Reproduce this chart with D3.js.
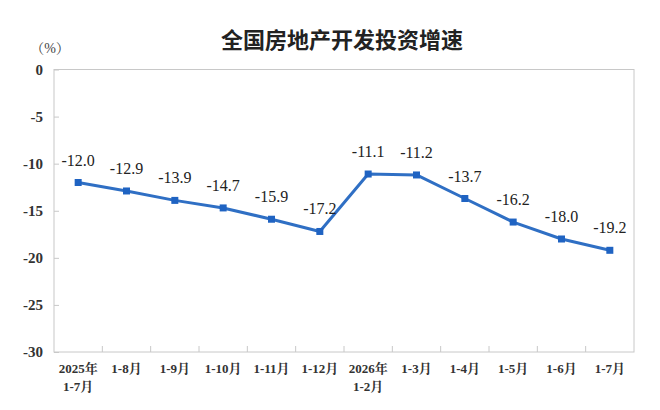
<!DOCTYPE html>
<html><head><meta charset="utf-8">
<script src="https://cdn.jsdelivr.net/npm/d3@7/dist/d3.min.js"></script>
<style>body{margin:0;background:#fff;}svg{display:block;}</style>
</head><body><svg id="c" width="660" height="410"></svg>
<script>
const categories = ["2025年|1-7月","1-8月","1-9月","1-10月","1-11月","1-12月","2026年|1-2月","1-3月","1-4月","1-5月","1-6月","1-7月"];
const values = [-12.0,-12.9,-13.9,-14.7,-15.9,-17.2,-11.1,-11.2,-13.7,-16.2,-18.0,-19.2];
const yTicks = [0,-5,-10,-15,-20,-25,-30];
const title = "全国房地产开发投资增速";
const unit = "（%）";

const SERIF = '"Liberation Serif", "Times New Roman", "Noto Serif CJK SC", "Noto Sans CJK SC", serif';
const svg = d3.select("#c");
const m = {l:54, r:634, t:69.5, b:352};
const x = d3.scaleBand().domain(categories).range([m.l, m.r]);
const y = d3.scaleLinear().domain([-30,0]).range([m.b, m.t]);
const axisCol = "#c8c8c8";

svg.append("text").attr("x",342).attr("y",48).attr("text-anchor","middle")
  .style("font-family",'"Noto Sans CJK SC", sans-serif').style("font-weight","bold")
  .style("font-size","22px").attr("fill","#222").text(title);

svg.append("text").attr("x",50).attr("y",53).attr("text-anchor","middle")
  .style("font-family",SERIF).style("font-size","14px").attr("fill","#444").text(unit);

// frame
svg.append("rect").attr("x",m.l).attr("y",m.t).attr("width",m.r-m.l).attr("height",m.b-m.t)
  .attr("fill","none").attr("stroke",axisCol).attr("stroke-width",1);

// y axis
const yAxis = svg.append("g").attr("transform",`translate(${m.l},0)`)
  .call(d3.axisRight(y).tickValues(yTicks).tickSize(5).tickFormat(d=>String(d)));
yAxis.select(".domain").remove();
yAxis.selectAll(".tick line").attr("stroke",axisCol);
yAxis.selectAll(".tick text").attr("x",-11).attr("text-anchor","end")
  .style("font-family",SERIF).style("font-weight","bold").style("font-size","15px").attr("fill","#333");

// x axis ticks at band boundaries (inside, pointing up)
const bounds = categories.slice(1).map(c=>x(c));
svg.append("g").selectAll("line").data(bounds).join("line")
  .attr("x1",d=>d).attr("x2",d=>d).attr("y1",m.b).attr("y2",m.b-6)
  .attr("stroke",axisCol);

const xl = svg.append("g").selectAll("text").data(categories).join("text")
  .attr("x",d=>x(d)+x.bandwidth()/2).attr("y",373).attr("text-anchor","middle")
  .style("font-family",SERIF).style("font-weight","bold").style("font-size","13px").attr("fill","#333");
xl.each(function(d){
  const parts = d.split("|");
  const t = d3.select(this);
  parts.forEach((p,i)=>{
    t.append("tspan").attr("x",x(d)+x.bandwidth()/2).attr("dy",i===0?0:18).text(p);
  });
});

// line
const cx = d=>x(d)+x.bandwidth()/2;
const line = d3.line().x((d,i)=>cx(categories[i])).y(d=>y(d));
svg.append("path").datum(values).attr("d",line).attr("fill","none")
  .attr("stroke","#2f6fc4").attr("stroke-width",3).attr("stroke-linejoin","round");

svg.append("g").selectAll("rect").data(values).join("rect")
  .attr("x",(d,i)=>cx(categories[i])-3.5).attr("y",d=>y(d)-3.5)
  .attr("width",7).attr("height",7).attr("fill","#1f63c2");

svg.append("g").selectAll("text").data(values).join("text")
  .attr("x",(d,i)=>cx(categories[i])).attr("y",d=>y(d)-17).attr("text-anchor","middle")
  .style("font-family",SERIF).style("font-size","16px").attr("fill","#222")
  .text(d=>d.toFixed(1));
</script></body></html>
